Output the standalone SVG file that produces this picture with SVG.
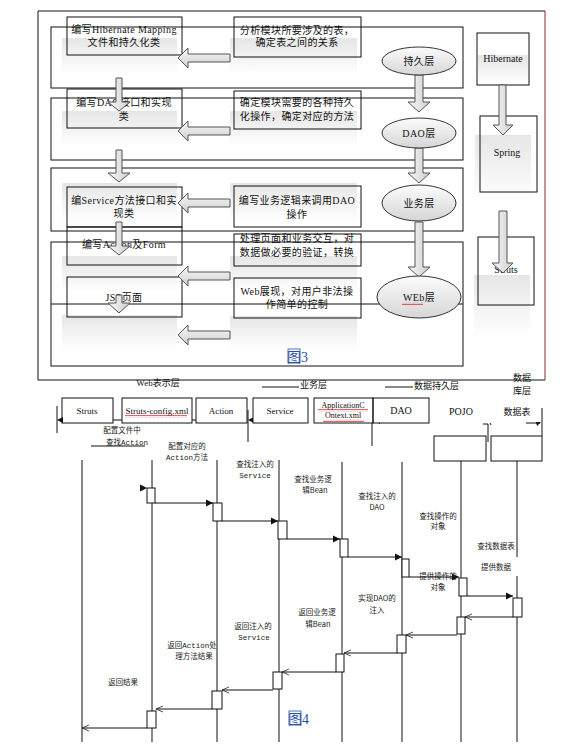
<svg xmlns="http://www.w3.org/2000/svg" xmlns:xlink="http://www.w3.org/1999/xlink" width="587" height="749" viewBox="0 0 587 749">
<style>
.t{font-family:"Liberation Serif","Noto Sans CJK SC",serif;font-size:10px;fill:#111;text-anchor:middle;letter-spacing:0.4px}
.h{font-family:"Liberation Serif","Noto Sans CJK SC",serif;font-size:9px;fill:#111;text-anchor:middle}
.s{font-family:"Noto Sans CJK SC","Liberation Sans",sans-serif;font-size:7.5px;fill:#222;text-anchor:middle}
.m{font-family:"Liberation Mono","Noto Sans CJK SC",monospace;font-size:7.5px;fill:#222;text-anchor:middle}
.fig{font-family:"Liberation Serif","Noto Sans CJK SC",serif;font-size:14px;fill:#2a4ea6}
.ol{fill:none;stroke:#111;stroke-width:1}
.bg{fill:url(#bg);stroke:none}
.barrow{fill:url(#arr);stroke:#555;stroke-width:1}
.darrow{fill:url(#arrh);stroke:#555;stroke-width:1}
.ell{fill:url(#ell);stroke:#333;stroke-width:1}
.ln{stroke:#111;stroke-width:1;fill:none}
.act{fill:#fff;stroke:#111;stroke-width:1}
.wave{fill:url(#wave)}
</style>
<defs>
<linearGradient id="bg" x1="0" y1="0" x2="0" y2="1"><stop offset="0" stop-color="#e6e6e6"/><stop offset="1" stop-color="#ffffff"/></linearGradient>
<linearGradient id="arr" x1="0" y1="0" x2="0" y2="1"><stop offset="0" stop-color="#fafafa"/><stop offset="1" stop-color="#cdcdcd"/></linearGradient>
<linearGradient id="arrh" x1="0" y1="0" x2="1" y2="0"><stop offset="0" stop-color="#fafafa"/><stop offset="1" stop-color="#cdcdcd"/></linearGradient>
<linearGradient id="ell" x1="0" y1="0" x2="0" y2="1"><stop offset="0" stop-color="#fbfbfb"/><stop offset="1" stop-color="#d6d6d6"/></linearGradient>
<pattern id="wave" width="4" height="3" patternUnits="userSpaceOnUse"><path d="M0,2.2 L1,0.8 L2,2.2 L3,0.8 L4,2.2" fill="none" stroke="#e02020" stroke-width="0.7"/></pattern>
<path id="la" d="M0,0 L10,-10 L10,-4 L52,-4 L52,4 L10,4 L10,10 Z"/>
<marker id="fa" markerWidth="8" markerHeight="8" refX="7" refY="4" orient="auto" markerUnits="userSpaceOnUse"><path d="M0,0.5 L7,4 L0,7.5 Z" fill="#111"/></marker>
<marker id="oa" markerWidth="9" markerHeight="8" refX="7.5" refY="4" orient="auto" markerUnits="userSpaceOnUse"><path d="M0.5,1 L7.5,4 L0.5,7" fill="none" stroke="#222" stroke-width="0.8"/></marker>
</defs>
<rect width="587" height="749" fill="#fff"/>

<!-- ===== Figure 3 ===== -->
<g id="frame3">
<line class="ln" x1="38" y1="11" x2="545" y2="11"/>
<line class="ln" x1="38" y1="11" x2="38" y2="380"/>
<line class="ln" x1="38" y1="380" x2="545" y2="380"/>
<line x1="545" y1="11" x2="545" y2="380" stroke="#8a2a2a" stroke-width="1"/>
</g>

<g id="backgrounds">
<rect class="bg" x="62" y="38" width="115" height="37"/>
<rect class="bg" x="62" y="111" width="115" height="36"/>
<rect class="bg" x="62" y="183" width="115" height="39"/>
<rect class="bg" x="62" y="256" width="115" height="36"/>
<rect class="bg" x="62" y="315" width="115" height="35"/>
<rect class="bg" x="230" y="38" width="127" height="37"/>
<rect class="bg" x="230" y="111" width="127" height="36"/>
<rect class="bg" x="230" y="183" width="127" height="39"/>
<rect class="bg" x="230" y="256" width="127" height="36"/>
<rect class="bg" x="230" y="316" width="127" height="34"/>
<rect class="bg" x="478" y="55" width="50" height="30"/>
<rect class="bg" x="475" y="135" width="56" height="68"/>
<rect class="bg" x="474" y="275" width="56" height="62"/>
</g>

<g id="n-mapping"><rect class="ol" x="67" y="17" width="115" height="38"/>
<text class="t" x="124" y="33">编写Hibernate Mapping</text><text class="t" x="124" y="46">文件和持久化类</text></g>
<g id="n-dao-impl"><rect class="ol" x="67" y="89" width="115" height="39"/>
<text class="t" x="124" y="106">编写DAO接口和实现</text><text class="t" x="124" y="120">类</text></g>
<g id="n-service-impl"><rect class="ol" x="67" y="187" width="115" height="40"/>
<text class="t" x="124" y="204">编Service方法接口和实</text><text class="t" x="124" y="217">现类</text></g>
<g id="n-action-form"><rect class="ol" x="67" y="227" width="115" height="38"/>
<text class="t" x="124" y="248">编写Action及Form</text></g>
<g id="n-jsp"><rect class="ol" x="67" y="277" width="115" height="40"/>
<text class="t" x="124" y="301">JSP页面</text></g>

<g id="n-analyze"><rect class="ol" x="234" y="17" width="127" height="40"/>
<text class="t" x="297" y="34">分析模块所要涉及的表，</text><text class="t" x="297" y="46">确定表之间的关系</text></g>
<g id="n-persist-ops"><rect class="ol" x="234" y="91" width="127" height="38"/>
<text class="t" x="297" y="106">确定模块需要的各种持久</text><text class="t" x="297" y="120">化操作，确定对应的方法</text></g>
<g id="n-logic"><rect class="ol" x="234" y="186" width="127" height="41"/>
<text class="t" x="297" y="204">编写业务逻辑来调用DAO</text><text class="t" x="297" y="218">操作</text></g>
<g id="n-page"><rect class="ol" x="234" y="234" width="127" height="32"/>
<text class="t" x="297" y="242">处理页面和业务交互，对</text><text class="t" x="297" y="256">数据做必要的验证，转换</text></g>
<g id="n-web-show"><rect class="ol" x="234" y="278" width="127" height="40"/>
<text class="t" x="297" y="295">Web展现，对用户非法操</text><text class="t" x="297" y="308">作简单的控制</text></g>

<g id="layers">
<rect class="ol" x="51" y="27" width="412" height="61"/>
<rect class="ol" x="51" y="98" width="412" height="62"/>
<rect class="ol" x="51" y="168" width="412" height="63"/>
<rect class="ol" x="51" y="242" width="412" height="124"/>
<line class="ln" x1="51" y1="304" x2="463" y2="304"/>
</g>

<g id="n-hibernate"><rect class="ol" x="477" y="33" width="52" height="52"/>
<text class="h" x="503" y="62" style="font-size:10px">Hibernate</text></g>
<g id="n-spring"><rect class="ol" x="480" y="116" width="57" height="76"/>
<text class="h" x="507" y="156" style="font-size:10px">Spring</text></g>
<g id="n-struts"><rect class="ol" x="478" y="237" width="56" height="68"/>
<text class="h" x="506" y="273" style="font-size:10px">Struts</text></g>

<g id="connectors3">
<use href="#la" class="barrow" x="178" y="58"/>
<use href="#la" class="barrow" x="178" y="131"/>
<use href="#la" class="barrow" x="178" y="203"/>
<use href="#la" class="barrow" x="178" y="276"/>
<use href="#la" class="barrow" x="178" y="335"/>
<path class="darrow" d="M116,78 L122,78 L122,102 L130,102 L119,111 L108,102 L116,102 Z"/>
<path class="darrow" d="M116,150 L122,150 L122,173 L130,173 L119,182 L108,173 L116,173 Z"/>
<path class="darrow" d="M116,222 L122,222 L122,246 L130,246 L119,255 L108,246 L116,246 Z"/>
<path class="darrow" d="M116,295 L122,295 L122,303 L130,303 L119,313 L108,303 L116,303 Z"/>
<path class="darrow" d="M415,75 L423,75 L423,102 L430,102 L419,112 L408,102 L415,102 Z"/>
<path class="darrow" d="M415,148 L423,148 L423,173 L430,173 L419,183 L408,173 L415,173 Z"/>
<path class="darrow" d="M415,222 L423,222 L423,267 L430,267 L419,277 L408,267 L415,267 Z"/>
<path class="darrow" d="M499,85 L506,85 L506,125 L513,125 L503,135 L493,125 L499,125 Z"/>
<path class="darrow" d="M499,211 L507,211 L507,263 L513,263 L503,273 L492,263 L499,263 Z"/>
</g>

<g id="n-persist-layer"><ellipse class="ell" cx="419" cy="61" rx="37" ry="14"/><text class="t" x="419" y="65">持久层</text></g>
<g id="n-dao-layer"><ellipse class="ell" cx="419" cy="133" rx="37" ry="15"/><text class="t" x="419" y="137">DAO层</text></g>
<g id="n-biz-layer"><ellipse class="ell" cx="419" cy="203" rx="37" ry="18"/><text class="t" x="419" y="207">业务层</text></g>
<g id="n-web-layer"><ellipse class="ell" cx="419" cy="297" rx="42" ry="21"/><text class="t" x="419" y="301">WEb层</text>
<rect class="wave" x="402" y="302" width="21" height="3"/></g>

<g id="label-fig3"><rect x="288" y="349" width="12" height="14" fill="none" stroke="#2a4ea6" stroke-width="0.8"/><text class="fig" x="287" y="362">图3</text></g>

<!-- ===== Figure 4 ===== -->
<g id="headers4">
<text class="h" x="158" y="386">Web表示层</text>
<line class="ln" x1="262" y1="387" x2="299" y2="387"/>
<text class="h" x="300" y="388" style="text-anchor:start">业务层</text>
<line class="ln" x1="385" y1="387" x2="413" y2="387"/>
<text class="h" x="414" y="389" style="text-anchor:start">数据持久层</text>
<text class="h" x="522" y="381">数据</text>
<text class="h" x="522" y="394">库层</text>
</g>

<g id="n-struts4"><rect class="ol" x="62" y="398" width="51" height="25"/><text class="h" x="87" y="414">Struts</text></g>
<g id="n-config"><rect class="ol" x="122" y="398" width="70" height="25"/><text class="h" x="157" y="414">Struts-config.xml</text>
<rect class="wave" x="125" y="415" width="62" height="3"/></g>
<g id="n-action4"><rect class="ol" x="196" y="398" width="51" height="25"/><text class="h" x="221" y="414">Action</text></g>
<g id="n-service4"><rect class="ol" x="253" y="398" width="55" height="25"/><text class="h" x="280" y="414">Service</text></g>
<g id="n-appctx"><rect class="ol" x="314" y="398" width="59" height="25"/><text class="h" x="343" y="408" style="font-size:8px">ApplicationC</text><text class="h" x="343" y="418" style="font-size:8px">Ontext.xml</text>
<rect class="wave" x="318" y="409" width="50" height="3"/><rect class="wave" x="323" y="419" width="41" height="3"/></g>
<g id="n-dao4"><rect class="ol" x="373" y="398" width="56" height="25"/><text class="h" x="401" y="414" style="font-size:10px">DAO</text></g>
<g id="n-pojo"><text class="h" x="461" y="415" style="font-size:10px">POJO</text><rect class="ol" x="434" y="436" width="52" height="25"/></g>
<g id="n-table"><text class="h" x="517" y="415">数据表</text><rect class="ol" x="491" y="436" width="51" height="25"/></g>

<g id="connectors4">
<line class="ln" x1="113" y1="420" x2="122" y2="420"/>
<line class="ln" x1="192" y1="420" x2="196" y2="420"/>
<line class="ln" x1="57" y1="406" x2="57" y2="433"/>
<path d="M57,420 L63,417 L63,423 Z" fill="#111"/>
<line class="ln" x1="248" y1="410" x2="248" y2="442"/>
<path d="M248,420 L253,417.5 L253,422.5 Z" fill="#111"/>
<line class="ln" x1="372" y1="423" x2="372" y2="446"/>
<line class="ln" x1="379" y1="423" x2="380" y2="424" stroke-width="0.6"/>
<line class="ln" x1="483" y1="424" x2="488" y2="424" stroke-width="0.8"/>
<line class="ln" x1="488" y1="424" x2="488" y2="442"/>
<line class="ln" x1="490" y1="423" x2="491" y2="425" stroke-width="0.6"/>
<line class="ln" x1="542" y1="408" x2="542" y2="436"/>
<line class="ln" x1="526" y1="423" x2="540" y2="423" stroke-width="0.8"/>
<path d="M541,422 L536,422 L537,426 Z" fill="#111"/>
<line class="ln" x1="91" y1="446" x2="145" y2="446"/>

<!-- lifelines -->
<line class="ln" x1="82" y1="460" x2="82" y2="742"/>
<line class="ln" x1="152" y1="460" x2="152" y2="742"/>
<line class="ln" x1="217" y1="460" x2="217" y2="742"/>
<line class="ln" x1="279" y1="460" x2="279" y2="742"/>
<line class="ln" x1="342" y1="462" x2="342" y2="742"/>
<line class="ln" x1="402" y1="462" x2="402" y2="742"/>
<line class="ln" x1="461" y1="461" x2="461" y2="742"/>
<line class="ln" x1="517" y1="461" x2="517" y2="557"/>
<line class="ln" x1="517" y1="576" x2="517" y2="742"/>

<!-- calls -->
<path d="M140,484.5 L147,488 L140,491.5 Z" fill="#111"/>
<line class="ln" x1="155" y1="503" x2="213" y2="503" marker-end="url(#fa)"/>
<line class="ln" x1="222" y1="521" x2="278" y2="521" marker-end="url(#fa)"/>
<line class="ln" x1="287" y1="539" x2="340" y2="539" marker-end="url(#fa)"/>
<line class="ln" x1="348" y1="557" x2="402" y2="557" marker-end="url(#fa)"/>
<line class="ln" x1="409" y1="577" x2="459" y2="577" marker-end="url(#fa)"/>
<line class="ln" x1="467" y1="596" x2="513" y2="596" marker-end="url(#fa)"/>
<!-- returns -->
<line class="ln" x1="513" y1="617" x2="465" y2="617" marker-end="url(#oa)"/>
<line class="ln" x1="457" y1="635" x2="406" y2="635" marker-end="url(#oa)"/>
<line class="ln" x1="397" y1="653" x2="344" y2="653" marker-end="url(#oa)"/>
<line class="ln" x1="336" y1="672" x2="282" y2="672" marker-end="url(#oa)"/>
<line class="ln" x1="273" y1="690" x2="222" y2="690" marker-end="url(#oa)"/>
<line class="ln" x1="212" y1="709" x2="156" y2="709" marker-end="url(#oa)"/>
<line class="ln" x1="147" y1="728" x2="82" y2="728" marker-end="url(#oa)"/>
</g>

<g id="activations">
<rect class="act" x="147" y="488" width="8" height="15"/>
<rect class="act" x="213" y="503" width="9" height="18"/>
<rect class="act" x="278" y="521" width="9" height="18"/>
<rect class="act" x="340" y="539" width="8" height="18"/>
<rect class="act" x="402" y="559" width="7" height="18"/>
<rect class="act" x="459" y="578" width="8" height="18"/>
<rect class="act" x="513" y="598" width="9" height="19"/>
<rect class="act" x="457" y="617" width="8" height="17"/>
<rect class="act" x="397" y="635" width="9" height="18"/>
<rect class="act" x="336" y="654" width="8" height="18"/>
<rect class="act" x="273" y="672" width="9" height="17"/>
<rect class="act" x="212" y="691" width="10" height="18"/>
<rect class="act" x="147" y="711" width="9" height="17"/>
</g>

<g id="labels4">
<text class="s" x="122" y="433">配置文件中</text>
<text class="m" x="127" y="445">查找Action</text>
<text class="s" x="187" y="449">配置对应的</text>
<text class="m" x="187" y="460">Action方法</text>
<text class="s" x="255" y="467">查找注入的</text>
<text class="m" x="255" y="478">Service</text>
<text class="s" x="313" y="482">查找业务逻</text>
<text class="s" x="315" y="493">辑Bean</text>
<text class="s" x="377" y="499">查找注入的</text>
<text class="s" x="377" y="510">DAO</text>
<text class="s" x="438" y="519">查找操作的</text>
<text class="s" x="438" y="529">对象</text>
<text class="s" x="496" y="549">查找数据表</text>
<text class="s" x="496" y="570">提供数据</text>
<text class="s" x="438" y="579">提供操作的</text>
<text class="s" x="438" y="590">对象</text>
<text class="s" x="377" y="601">实现DAO的</text>
<text class="s" x="377" y="613">注入</text>
<text class="s" x="317" y="615">返回业务逻</text>
<text class="s" x="318" y="627">辑Bean</text>
<text class="s" x="253" y="629">返回注入的</text>
<text class="m" x="254" y="640">Service</text>
<text class="m" x="192" y="648">返回Action处</text>
<text class="s" x="194" y="659">理方法结果</text>
<text class="s" x="123" y="685">返回结果</text>
</g>

<g id="label-fig4"><rect x="289" y="711" width="12" height="14" fill="none" stroke="#2a4ea6" stroke-width="0.8"/><text class="fig" x="288" y="724">图4</text></g>
</svg>
